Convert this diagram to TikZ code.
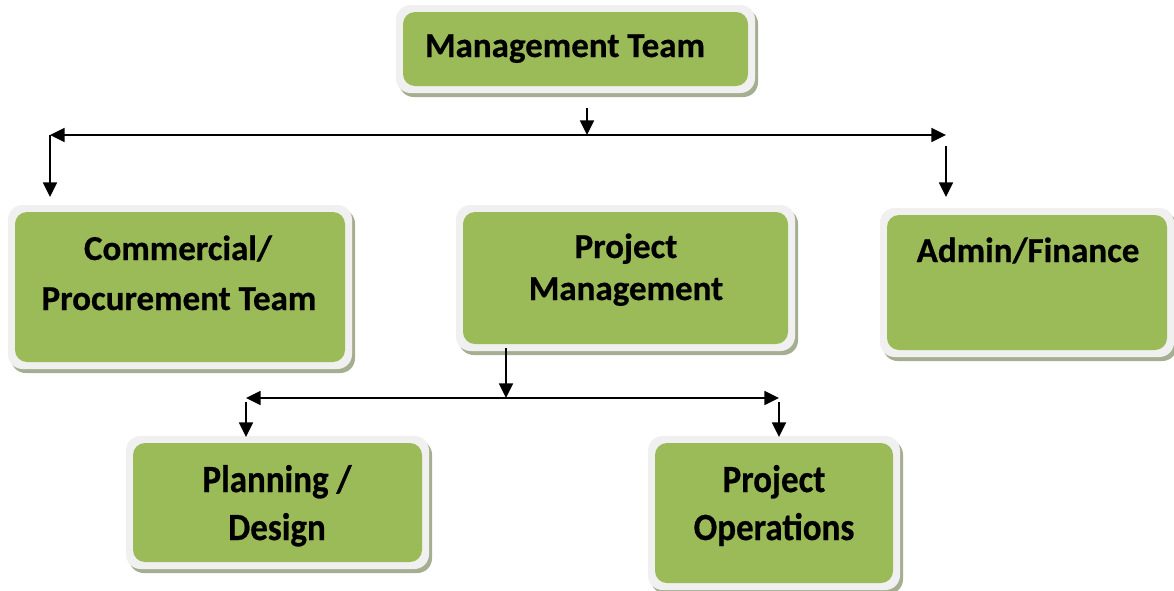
\documentclass[tikz,border=0pt]{standalone}
\usepackage{fontspec}
\setmainfont{Carlito}[BoldFeatures={FakeBold=0.6}]
\usetikzlibrary{arrows.meta,fit}
\definecolor{boxgreen}{HTML}{9BBB59}
\definecolor{boxrim}{HTML}{F0F0F0}
\definecolor{boxshade}{RGB}{165,174,145}
\newcommand{\orgbox}[5]{%
  \fill[boxshade, rounded corners=11pt] (#2-7+3,#3-7+4) rectangle (#4+7+3,#5+7+4);
  \fill[boxrim, rounded corners=11pt] (#2-7,#3-7) rectangle (#4+7,#5+7);
  \node[fit={(#2,#3) (#4,#5)}, inner sep=0pt, fill=boxgreen, rounded corners=9pt] (#1) {};
}
\tikzset{
  lbl/.style={anchor=base, inner sep=0pt, font=\bfseries\fontsize{26.25}{30}\selectfont},
  arr/.style={line width=1.2pt, -{Triangle[length=11pt,width=10.5pt]}},
  darr/.style={line width=1.2pt, {Triangle[length=11pt,width=10.5pt]}-{Triangle[length=11pt,width=10.5pt]}},
  stem/.style={line width=1.2pt}
}
\begin{document}
\begin{tikzpicture}[x=0.75pt,y=-0.75pt]
\useasboundingbox (0,0) rectangle (1174,590);
\clip (0,0) rectangle (1174,590);
\fill[white] (0,0) rectangle (1174,590);

% boxes
\orgbox{mt}{403}{12}{748}{86}
\orgbox{cp}{15}{212}{345}{362}
\orgbox{pm}{463}{212}{788}{344}
\orgbox{af}{887}{215}{1167}{350}
\orgbox{pd}{133}{443}{422}{562}
\orgbox{po}{655}{443}{893}{583}

% texts
\node[lbl] (mtT) at (565,57) {Management Team};
\node[lbl] (cpT1) at (178,260) {Commercial/};
\node[lbl] (cpT2) at (179,310) {Procurement Team};
\node[lbl] (pmT1) at (626,258) {Project};
\node[lbl] (pmT2) at (626,300) {Management};
\node[lbl] (afT) at (1028,262) {Admin/Finance};
\node[lbl, yscale=1.1] (pdT1) at (277,492) {Planning /};
\node[lbl, yscale=1.1] (pdT2) at (277,540) {Design};
\node[lbl, yscale=1.1] (poT1) at (774,492) {Project};
\node[lbl, yscale=1.1] (poT2) at (774,540) {Operations};

% connector points, upper level
\coordinate (u0) at (587,108);
\coordinate (u1) at (587,135);
\coordinate (uL) at (50,135);
\coordinate (uR) at (946,135);
\coordinate (uLd) at (50,197);
\coordinate (uRs) at (946,146);
\coordinate (uRd) at (946,197);
% lower level
\coordinate (l0) at (506,348);
\coordinate (l1) at (506,398);
\coordinate (lL) at (246,398);
\coordinate (lR) at (779,398);
\coordinate (lLs) at (246,402);
\coordinate (lLd) at (246,437);
\coordinate (lRs) at (779,402);
\coordinate (lRd) at (779,437);

\draw[darr] (uL) -- (uR);
\draw[arr] (u0) -- (u1);
\draw[arr] (uL) -- (uLd);
\draw[arr] (uRs) -- (uRd);

\draw[darr] (lL) -- (lR);
\draw[arr] (l0) -- (l1);
\draw[arr] (lLs) -- (lLd);
\draw[arr] (lRs) -- (lRd);
\end{tikzpicture}
\end{document}
